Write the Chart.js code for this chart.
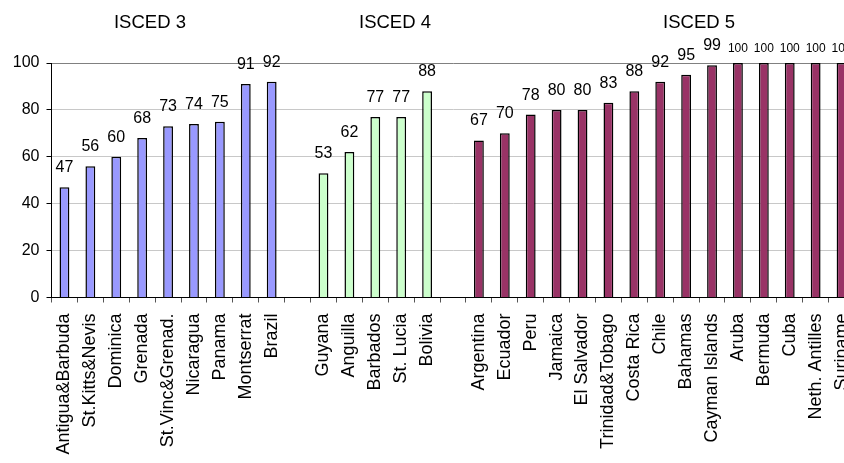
<!DOCTYPE html>
<html>
<head>
<meta charset="utf-8">
<script src="https://cdn.jsdelivr.net/npm/chart.js@4.4.1/dist/chart.umd.min.js"></script>
<style>
  html, body { margin: 0; padding: 0; background: #fff; overflow: hidden; }
  #wrap { position: relative; width: 870px; height: 463px; }
</style>
</head>
<body>
<div id="wrap"><canvas id="chart"></canvas></div>
<script>
// Country groups by ISCED level, with their percentages
const isced3Countries = ['Antigua&Barbuda', 'St.Kitts&Nevis', 'Dominica', 'Grenada', 'St.Vinc&Grenad.', 'Nicaragua', 'Panama', 'Montserrat', 'Brazil'];
const isced3Values = [47, 56, 60, 68, 73, 74, 75, 91, 92];

const isced4Countries = ['Guyana', 'Anguilla', 'Barbados', 'St. Lucia', 'Bolivia'];
const isced4Values = [53, 62, 77, 77, 88];

const isced5Countries = ['Argentina', 'Ecuador', 'Peru', 'Jamaica', 'El Salvador', 'Trinidad&Tobago', 'Costa Rica', 'Chile', 'Bahamas', 'Cayman Islands', 'Aruba', 'Bermuda', 'Cuba', 'Neth. Antilles', 'Suriname'];
const isced5Values = [67, 70, 78, 80, 80, 83, 88, 92, 95, 99, 100, 100, 100, 100, 100];

const groupTitles = ['ISCED 3', 'ISCED 4', 'ISCED 5'];
const yTicks = [0, 20, 40, 60, 80, 100];

// One empty slot separates the groups on the category axis
const labels = [...isced3Countries, '', ...isced4Countries, '', ...isced5Countries];
const n = labels.length;
const off4 = isced3Countries.length + 1;
const off5 = off4 + isced4Countries.length + 1;

function placeSeries(values, offset) {
  const arr = new Array(n).fill(null);
  values.forEach((v, i) => { arr[offset + i] = v; });
  return arr;
}

const FONT = '"Liberation Sans", Arial, sans-serif';

// Value labels above each bar, plus the group headings
const annotate = {
  id: 'annotate',
  afterDatasetsDraw(chart) {
    const ctx = chart.ctx;
    ctx.save();
    ctx.fillStyle = '#000';
    ctx.textAlign = 'center';
    ctx.textBaseline = 'alphabetic';
    chart.data.datasets.forEach((ds, di) => {
      const meta = chart.getDatasetMeta(di);
      meta.data.forEach((bar, i) => {
        const v = ds.data[i];
        if (v === null) return;
        if (v >= 100) {
          ctx.font = '12px ' + FONT;
          ctx.fillText(String(v), bar.x, bar.y - 11.5);
        } else {
          ctx.font = '16px ' + FONT;
          ctx.fillText(String(v), bar.x, bar.y - 15);
        }
      });
    });
    const xs = chart.scales.x;
    const titlePos = [3.3, 12.76, 24.5];
    ctx.font = '18.5px ' + FONT;
    groupTitles.forEach((t, i) => {
      ctx.fillText(t, xs.getPixelForValue(titlePos[i]), 28);
    });
    ctx.restore();
  }
};

const barStyle = { borderColor: '#000', borderWidth: 1.5, barPercentage: 0.38, categoryPercentage: 1.0, grouped: false };

new Chart(document.getElementById('chart'), {
  type: 'bar',
  data: {
    labels: labels,
    datasets: [
      Object.assign({ label: groupTitles[0], data: placeSeries(isced3Values, 0), backgroundColor: '#9999FF' }, barStyle),
      Object.assign({ label: groupTitles[1], data: placeSeries(isced4Values, off4), backgroundColor: '#CCFFCC' }, barStyle),
      Object.assign({ label: groupTitles[2], data: placeSeries(isced5Values, off5), backgroundColor: '#993366' }, barStyle)
    ]
  },
  options: {
    responsive: true,
    maintainAspectRatio: false,
    animation: false,
    layout: { padding: { top: 63, right: 15.5, left: 0, bottom: 0 } },
    plugins: { legend: { display: false }, tooltip: { enabled: false } },
    scales: {
      x: {
        grid: { display: true, drawOnChartArea: false, drawTicks: true, tickLength: 5, color: '#555', offset: true },
        border: { display: true, color: '#000', width: 1 },
        ticks: {
          autoSkip: false, minRotation: 90, maxRotation: 90, padding: 11,
          color: '#000', font: { family: FONT, size: 18 }
        },
        afterFit(scale) {
          scale.height = 165.5;
          scale.paddingLeft = 0;
          scale.paddingRight = 0;
        }
      },
      y: {
        min: 0, max: 100,
        afterBuildTicks(scale) { scale.ticks = yTicks.map(v => ({ value: v })); },
        grid: {
          color: ctx => (ctx.tick && ctx.tick.value === 100) ? '#808080' : '#c8c8c8',
          tickColor: '#000', tickLength: 5, drawTicks: true
        },
        border: { display: true, color: '#000', width: 1 },
        ticks: { padding: 7, color: '#000', font: { family: FONT, size: 16 } },
        afterFit(scale) {
          scale.width = 51.5;
          scale.paddingTop = 0;
          scale.paddingBottom = 0;
        }
      }
    }
  },
  plugins: [annotate]
});
</script>
</body>
</html>
